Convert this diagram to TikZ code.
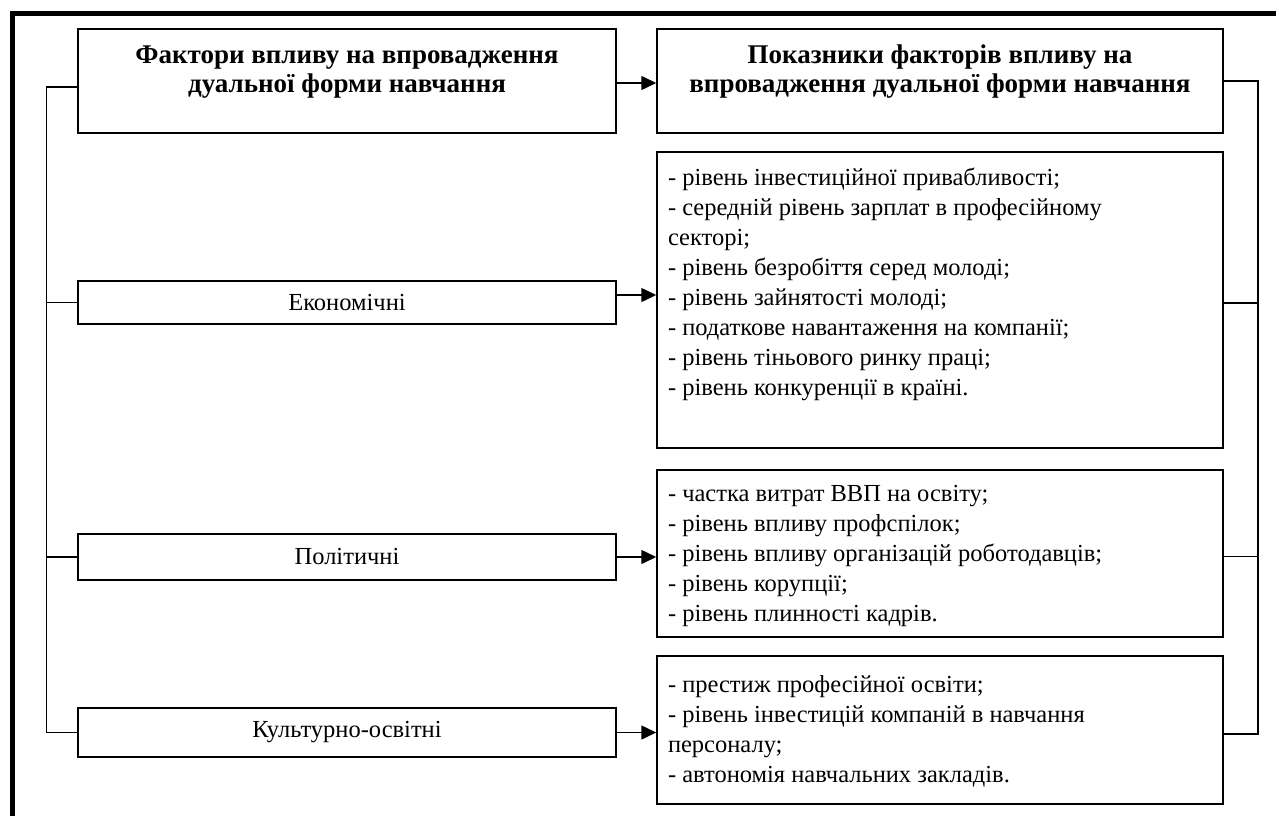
\documentclass[tikz,border=0pt]{standalone}
\usepackage{fontspec}
\setmainfont{Liberation Serif}
\usetikzlibrary{arrows.meta,positioning,calc}
\tikzset{
    block/.style = {draw, rectangle, line width=1.5pt, inner xsep=11pt, inner ysep=0pt},
    titlebox/.style = {block, font=\fontsize{27}{29}\selectfont\bfseries},
    factor/.style = {block, minimum width=538pt, align=center,
        font=\fontsize{24.5}{30}\selectfont},
    itembox/.style = {block, font=\fontsize{24.5}{30}\selectfont},
    arrow/.style = {draw, line width=1.5pt, -{Triangle[length=15pt,width=14pt]}},
    bracket/.style = {draw, line width=1.5pt},
    frame/.style = {draw, line width=5pt}
}
\newcommand{\titletext}[3]{\parbox[c][#1][t]{#2}{\centering\vspace*{14.5pt}\strut#3}}
\newcommand{\itemtext}[3]{\parbox[c][#1][t]{544pt}{\raggedright\vspace*{#2}\strut#3}}

\begin{document}
\begin{tikzpicture}[x=1pt, y=-1pt]
    \useasboundingbox (0,0) rectangle (1276,816);
    \draw[frame] (12.5,816) -- (12.5,13.5) -- (1276,13.5);

    % headers
    \node [titlebox] (factors) at (347,81)
        {\titletext{104pt}{516pt}{Фактори впливу на впровадження\\ дуальної форми навчання}};
    \node [titlebox] (indicators) at (940,81)
        {\titletext{104pt}{544pt}{Показники факторів впливу на\\ впровадження дуальної форми навчання}};

    % factor groups
    \node [factor, minimum height=43pt] (econ) at (347,302.5) {Економічні};
    \node [factor, minimum height=46pt] (polit) at (347,557) {Політичні};
    \node [factor, minimum height=49pt] (cult) at (347,732.5) {Культурно-освітні};

    % indicator lists
    \node [itembox] (econind) at (940,300) {\itemtext{296pt}{12.6pt}{%
        - рівень інвестиційної привабливості;\\
        - середній рівень зарплат в професійному\\ секторі;\\
        - рівень безробіття серед молоді;\\
        - рівень зайнятості молоді;\\
        - податкове навантаження на компанії;\\
        - рівень тіньового ринку праці;\\
        - рівень конкуренції в країні.}};
    \node [itembox] (politind) at (940,553.5) {\itemtext{167pt}{10.6pt}{%
        - частка витрат ВВП на освіту;\\
        - рівень впливу профспілок;\\
        - рівень впливу організацій роботодавців;\\
        - рівень корупції;\\
        - рівень плинності кадрів.}};
    \node [itembox] (cultind) at (940,730) {\itemtext{148pt}{15.6pt}{%
        - престиж професійної освіти;\\
        - рівень інвестицій компаній в навчання\\ персоналу;\\
        - автономія навчальних закладів.}};

    % arrows
    \draw [arrow] ([yshift=-2pt]factors.east) -- ([yshift=-2pt]factors.east -| indicators.west);
    \draw [arrow] ([yshift=7.5pt]econ.east) -- ([yshift=7.5pt]econ.east -| econind.west);
    \draw [arrow] (polit.east) -- (polit.east -| politind.west);
    \draw [arrow] (cult.east) -- (cult.east -| cultind.west);

    % left bracket
    \draw [bracket] ([yshift=-6pt]factors.west) -- ++(-31,0) coordinate (ltop) |- (cult.west);
    \foreach \n in {econ,polit}
        \draw [bracket] (\n.west) -- (\n.west -| ltop);

    % right bracket
    \draw [bracket] (indicators.east) -- ++(34,0) coordinate (rtop) |- ([yshift=-4pt]cultind.east);
    \foreach \n in {econind,politind}
        \draw [bracket] ([yshift=-3pt]\n.east) -- ([yshift=-3pt]\n.east -| rtop);
\end{tikzpicture}
\end{document}
